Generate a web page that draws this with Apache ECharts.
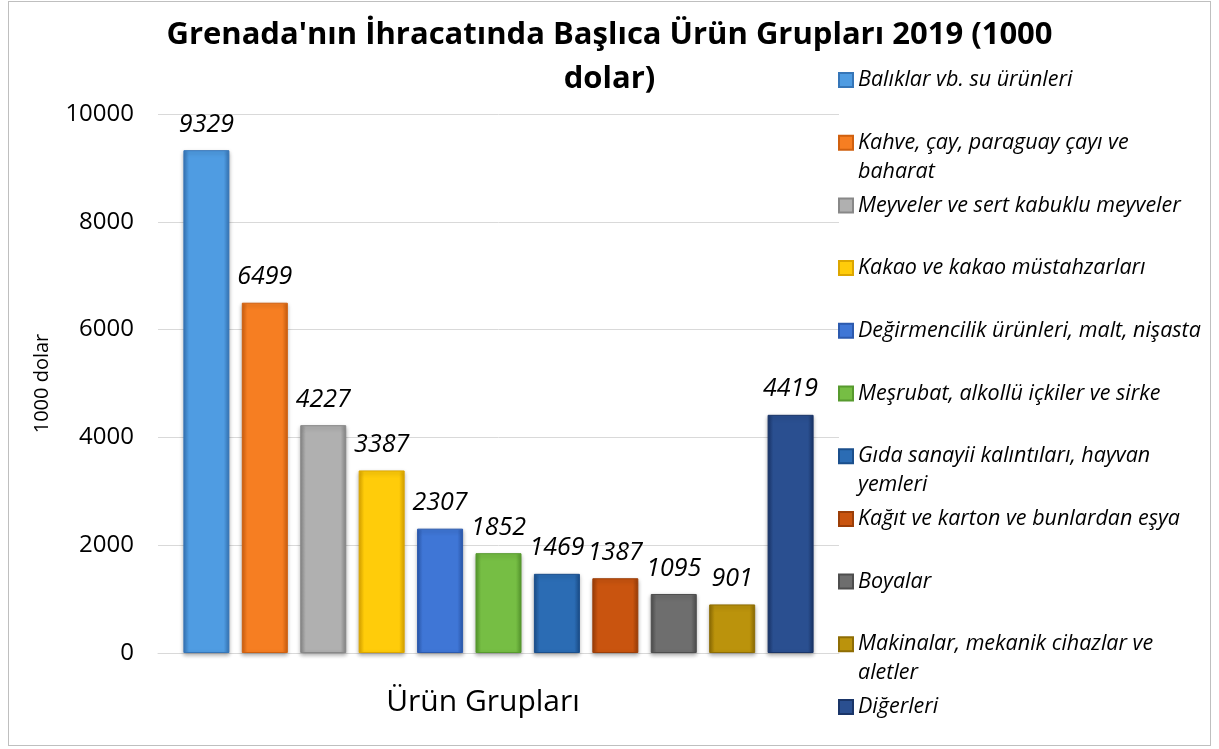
<!DOCTYPE html>
<html>
<head>
<meta charset="utf-8">
<script src="https://cdn.jsdelivr.net/npm/echarts@6/dist/echarts.min.js"></script>
<style>
html, body { margin: 0; padding: 0; background: #fff; }
#frame {
  position: absolute;
  left: 8px; top: 1px;
  width: 1201px; height: 743px;
  border: 1px solid #bfbfbf;
}
#chart { position: absolute; left: 0; top: 0; width: 1219px; height: 749px; }
</style>
</head>
<body>
<div id="frame"></div>
<div id="chart"></div>
<script>
// ürün grupları (seri adları) ve değerleri, 1000 dolar
const groups = [
  'Balıklar vb. su ürünleri',
  'Kahve, çay, paraguay çayı ve baharat',
  'Meyveler ve sert kabuklu meyveler',
  'Kakao ve kakao müstahzarları',
  'Değirmencilik ürünleri, malt, nişasta',
  'Meşrubat, alkollü içkiler ve sirke',
  'Gıda sanayii kalıntıları, hayvan yemleri',
  'Kağıt ve karton ve bunlardan eşya',
  'Boyalar',
  'Makinalar, mekanik cihazlar ve aletler',
  'Diğerleri'
]
// göstergede satır kırılan adlar
const legendLabels = [
  'Balıklar vb. su ürünleri',
  'Kahve, çay, paraguay çayı ve\nbaharat',
  'Meyveler ve sert kabuklu meyveler',
  'Kakao ve kakao müstahzarları',
  'Değirmencilik ürünleri, malt, nişasta',
  'Meşrubat, alkollü içkiler ve sirke',
  'Gıda sanayii kalıntıları, hayvan\nyemleri',
  'Kağıt ve karton ve bunlardan eşya',
  'Boyalar',
  'Makinalar, mekanik cihazlar ve\naletler',
  'Diğerleri'
]
const values = [9329, 6499, 4227, 3387, 2307, 1852, 1469, 1387, 1095, 901, 4419]
const yTicks = [0, 2000, 4000, 6000, 8000, 10000]

// renkler: [orta, kenar]
const colors = [
  ['#4f9ce2', '#3676b8'],
  ['#f67e22', '#d0600f'],
  ['#b0b0b0', '#888888'],
  ['#ffcc0a', '#dca600'],
  ['#3f76d6', '#2c5aae'],
  ['#76be44', '#579a2e'],
  ['#2b6cb4', '#1b4f8c'],
  ['#c9540f', '#9c3e08'],
  ['#6e6e6e', '#4e4e4e'],
  ['#bb930c', '#8e6d04'],
  ['#2a4f90', '#1a3568']
]

function bevel (c) {
  return new echarts.graphic.LinearGradient(0, 0, 1, 0, [
    { offset: 0, color: c[1] },
    { offset: 0.12, color: c[0] },
    { offset: 0.5, color: c[0] },
    { offset: 0.88, color: c[0] },
    { offset: 1, color: c[1] }
  ])
}

const FONT = 'Open Sans'

const series = []
const legends = []
groups.forEach(function (name, i) {
  series.push({
    name: name,
    type: 'bar',
    data: [values[i]],
    barWidth: 46,
    barGap: '27%',
    itemStyle: {
      color: bevel(colors[i]),
      borderColor: colors[i][1],
      borderWidth: 1,
      shadowBlur: 4,
      shadowOffsetY: 2,
      shadowColor: 'rgba(0,0,0,0.3)'
    },
    label: {
      show: true,
      position: 'top',
      distance: 13,
      fontFamily: FONT,
      fontStyle: 'italic',
      fontSize: 25,
      color: '#000'
    }
  })
  // iki satırlı adlarda simge ilk satırla hizalansın diye başa boş satır
  const wrapped = legendLabels[i].indexOf('\n') >= 0
  const text = wrapped ? ' \n' + legendLabels[i] : legendLabels[i]
  const cy = 80 + i * 62.7
  legends.push({
    data: [name],
    orient: 'vertical',
    left: 838,
    top: cy - (wrapped ? 43.5 : 14.5),
    padding: 0,
    itemWidth: 14,
    itemHeight: 14,
    icon: 'rect',
    selectedMode: false,
    formatter: function () { return text },
    textStyle: {
      fontFamily: FONT,
      fontStyle: 'italic',
      fontSize: 21.5,
      color: '#000',
      lineHeight: 29
    }
  })
})

const chart = echarts.init(document.getElementById('chart'))
chart.setOption({
  animation: false,
  title: {
    text: "Grenada'nın İhracatında Başlıca Ürün Grupları 2019 (1000\ndolar)",
    left: 'center',
    top: 13,
    padding: 0,
    textStyle: {
      fontFamily: FONT,
      fontWeight: 'bold',
      fontSize: 31,
      lineHeight: 44,
      color: '#000'
    }
  },
  legend: legends,
  grid: { left: 158, right: 380, top: 114, bottom: 96 },
  xAxis: {
    type: 'category',
    data: [''],
    name: 'Ürün Grupları',
    nameLocation: 'middle',
    nameGap: 34,
    nameTextStyle: {
      fontFamily: FONT,
      fontSize: 30,
      color: '#000',
      padding: [0, 31, 0, 0]
    },
    axisLine: { lineStyle: { color: '#d9d9d9', width: 1 } },
    axisTick: { show: false },
    axisLabel: { show: false }
  },
  yAxis: {
    type: 'value',
    min: yTicks[0],
    max: yTicks[yTicks.length - 1],
    interval: yTicks[1] - yTicks[0],
    name: '1000 dolar',
    nameLocation: 'middle',
    nameGap: 106,
    nameTextStyle: { fontFamily: FONT, fontSize: 20, color: '#000' },
    axisLine: { show: false },
    axisTick: { show: false },
    axisLabel: {
      fontFamily: FONT,
      fontSize: 24,
      color: '#000',
      margin: 24,
      formatter: function (v) { return String(v) }
    },
    splitLine: { lineStyle: { color: '#d9d9d9', width: 1 } }
  },
  series: series
})
</script>
</body>
</html>
